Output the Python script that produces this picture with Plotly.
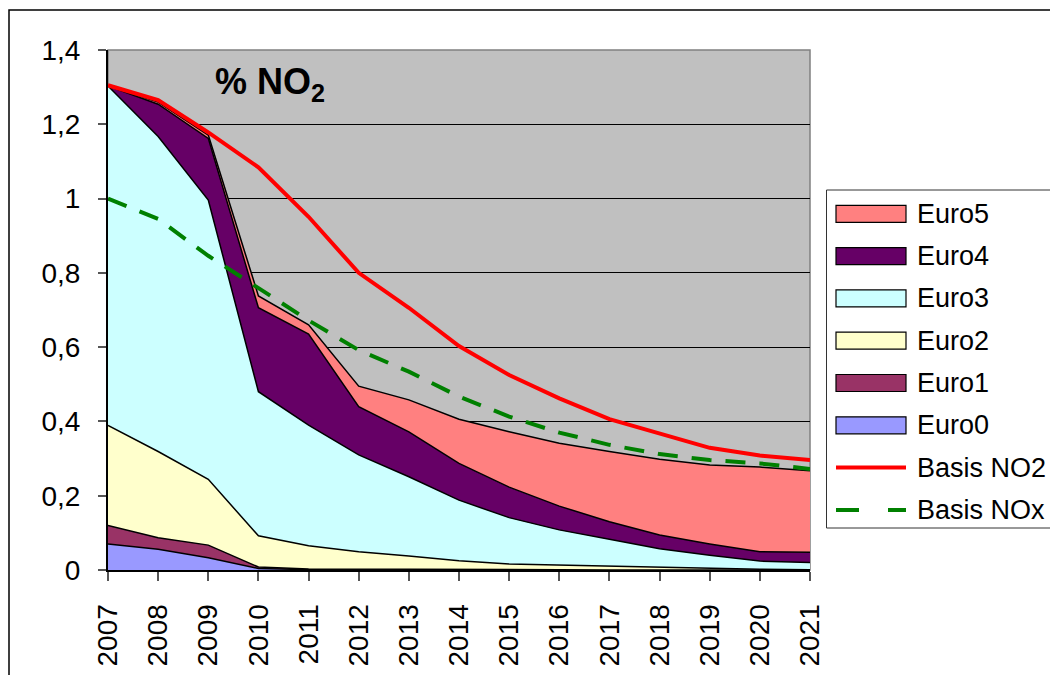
import plotly.graph_objects as go

# ---------------- data ----------------
years = [2007, 2008, 2009, 2010, 2011, 2012, 2013, 2014, 2015, 2016, 2017, 2018, 2019, 2020, 2021]
year_labels = [str(y) for y in years]

euro0 = [0.070, 0.056, 0.033, 0.004, 0.001, 0.001, 0.001, 0.000, 0.000, 0.000, 0.000, 0.000, 0.000, 0.000, 0.000]
euro1 = [0.050, 0.031, 0.034, 0.004, 0.002, 0.002, 0.001, 0.001, 0.001, 0.001, 0.000, 0.000, 0.000, 0.000, 0.000]
euro2 = [0.269, 0.232, 0.177, 0.084, 0.062, 0.046, 0.036, 0.024, 0.015, 0.012, 0.009, 0.006, 0.004, 0.002, 0.001]
euro3 = [0.914, 0.848, 0.752, 0.388, 0.325, 0.261, 0.213, 0.163, 0.125, 0.095, 0.074, 0.051, 0.036, 0.022, 0.019]
euro4 = [0.000, 0.087, 0.166, 0.226, 0.245, 0.130, 0.121, 0.099, 0.082, 0.064, 0.047, 0.037, 0.030, 0.025, 0.028]
euro5 = [0.000, 0.006, 0.009, 0.032, 0.025, 0.055, 0.086, 0.119, 0.149, 0.169, 0.189, 0.204, 0.213, 0.228, 0.219]

basis_no2 = [1.305, 1.265, 1.178, 1.084, 0.951, 0.800, 0.706, 0.603, 0.525, 0.462, 0.406, 0.368, 0.329, 0.308, 0.296]
basis_nox = [1.000, 0.945, 0.846, 0.758, 0.672, 0.592, 0.534, 0.467, 0.413, 0.370, 0.337, 0.312, 0.296, 0.287, 0.272]

area_names = ["Euro0", "Euro1", "Euro2", "Euro3", "Euro4", "Euro5"]
area_values = [euro0, euro1, euro2, euro3, euro4, euro5]
area_colors = ["#9999FF", "#993366", "#FFFFCC", "#CCFFFF", "#660066", "#FF8080"]

y_ticks = [0, 0.2, 0.4, 0.6, 0.8, 1.0, 1.2, 1.4]

# ---------------- layout geometry ----------------
OFF = 8  # default body margin of the html page
W, H = 1058 - OFF, 675 - OFF
# plot area in window pixels
L_w, R_w, T_w, B_w = 108, 810, 50, 570
L, R, T, B = L_w - OFF, R_w - OFF, T_w - OFF, B_w - OFF  # in figure pixels

def px_x(px):  # window pixel -> paper
    return (px - OFF - L) / (R - L)

def px_y(py):
    return (B - (py - OFF)) / (B - T)

FONT = "Arial, 'Liberation Sans', sans-serif"

fig = go.Figure()

for name, vals, col in zip(area_names, area_values, area_colors):
    fig.add_trace(go.Scatter(
        x=years, y=vals, name=name, mode="lines",
        stackgroup="one", fillcolor=col,
        line=dict(color="black", width=1.5),
        showlegend=False, hoverinfo="x+y+name",
    ))

fig.add_trace(go.Scatter(
    x=years, y=basis_no2, name="Basis NO2", mode="lines",
    line=dict(color="#FF0000", width=4), showlegend=False,
))
fig.add_trace(go.Scatter(
    x=years, y=basis_nox, name="Basis NOx", mode="lines",
    line=dict(color="#008000", width=4, dash="20px,14px"), showlegend=False,
))

shapes = []
annotations = []

# outer chart border (only top/left visible in the window)
shapes.append(dict(type="rect", xref="paper", yref="paper",
                   x0=px_x(9), x1=px_x(1075), y0=px_y(690), y1=px_y(10),
                   line=dict(color="black", width=1.5), layer="below"))
# plot-area border (grey)
shapes.append(dict(type="rect", xref="paper", yref="paper",
                   x0=0, x1=1, y0=0, y1=1,
                   line=dict(color="#808080", width=1.5), layer="below"))

# ---------------- manual legend ----------------
shapes.append(dict(type="rect", xref="paper", yref="paper",
                   x0=px_x(826.5), x1=px_x(1056.5), y0=px_y(528), y1=px_y(190),
                   line=dict(color="#333333", width=1), fillcolor="white"))

leg_x0, leg_x1, text_x = 836, 906, 915
leg_y_first, leg_step = 213.8, 42.3
entries = list(zip(area_names[::-1], area_colors[::-1]))
for i, (name, col) in enumerate(entries):
    yc = leg_y_first + i * leg_step
    shapes.append(dict(type="rect", xref="paper", yref="paper",
                       x0=px_x(leg_x0), x1=px_x(leg_x1),
                       y0=px_y(yc + 8.5), y1=px_y(yc - 8.5),
                       fillcolor=col, line=dict(color="black", width=1.2)))
    annotations.append(dict(xref="paper", yref="paper", x=px_x(text_x), y=px_y(yc),
                            text=name, showarrow=False, xanchor="left", yanchor="middle",
                            font=dict(family=FONT, size=27, color="black")))

line_entries = [("Basis NO2", "#FF0000", "solid"), ("Basis NOx", "#008000", "23px,29px")]
for j, (name, col, dash) in enumerate(line_entries):
    yc = leg_y_first + (6 + j) * leg_step
    shapes.append(dict(type="line", xref="paper", yref="paper",
                       x0=px_x(leg_x0), x1=px_x(leg_x1), y0=px_y(yc), y1=px_y(yc),
                       line=dict(color=col, width=4, dash=dash)))
    annotations.append(dict(xref="paper", yref="paper", x=px_x(text_x), y=px_y(yc),
                            text=name, showarrow=False, xanchor="left", yanchor="middle",
                            font=dict(family=FONT, size=27, color="black")))

# title inside plot
annotations.append(dict(xref="paper", yref="paper", x=px_x(213), y=px_y(84),
                        text="<b>% NO<sub>2</sub></b>", showarrow=False,
                        xanchor="left", yanchor="middle",
                        font=dict(family=FONT, size=36, color="black")))

fig.update_layout(
    width=W, height=H, autosize=False,
    margin=dict(l=L, r=W - R, t=T, b=H - B, pad=0),
    paper_bgcolor="white", plot_bgcolor="#C0C0C0",
    separators=", ",
    showlegend=False,
    shapes=shapes, annotations=annotations,
    font=dict(family=FONT, color="black"),
)

fig.update_xaxes(
    range=[2007, 2021], tickmode="array", tickvals=years, ticktext=year_labels,
    tickangle=-90, ticks="outside", ticklen=9, tickcolor="#555555", tickwidth=1.5,
    showgrid=False, zeroline=False, showline=True, linecolor="black", linewidth=2,
    tickfont=dict(family=FONT, size=28, color="black"), automargin=False,
    ticklabelstandoff=12,
)
fig.update_yaxes(
    range=[0, 1.4], tickmode="array", tickvals=y_ticks,
    ticks="outside", ticklen=8, tickcolor="#555555", tickwidth=1.5,
    showgrid=True, gridcolor="black", gridwidth=1, zeroline=False,
    showline=True, linecolor="black", linewidth=2,
    tickfont=dict(family=FONT, size=28, color="black"), automargin=False,
    ticklabelstandoff=12,
)

fig.write_html("out.html")
